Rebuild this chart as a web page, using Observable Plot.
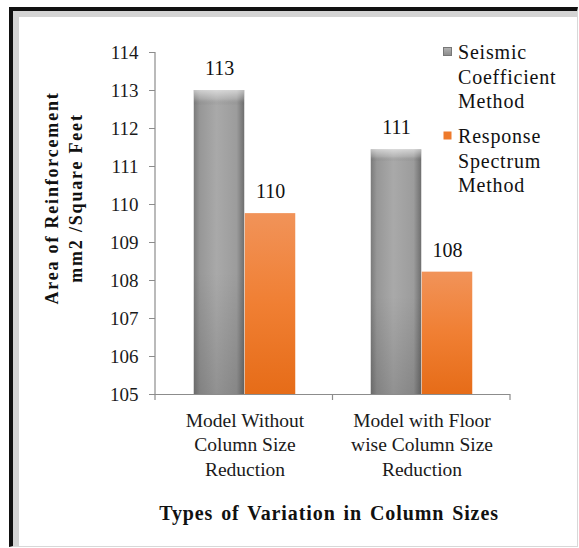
<!DOCTYPE html>
<html>
<head>
<meta charset="utf-8">
<script src="https://cdn.jsdelivr.net/npm/d3@7"></script>
<script src="https://cdn.jsdelivr.net/npm/@observablehq/plot@0.6"></script>
<style>
  html, body { margin: 0; padding: 0; background: #fff; }
  #wrap { position: relative; width: 579px; height: 548px; overflow: hidden; font-family: "Liberation Serif", "Times New Roman", serif; color: #111; }
  #outer { position: absolute; left: 9px; top: 7px; right: 1px; bottom: 1px; border-left: 4px solid #111; border-top: 4px solid #111; border-right: 1px solid #d8d8d8; border-bottom: 1px solid #d8d8d8; }
  #inner { position: absolute; left: 0; top: 0; right: 0; bottom: 0; border-left: 6px solid #d4d4d4; border-top: 6px solid #d4d4d4; }
  #chart { position: absolute; left: 0; top: 0; }
  #ytitle { position: absolute; left: 64px; top: 198px; width: 320px; transform: translate(-50%, -50%) rotate(-90deg); text-align: center; font-family: "Liberation Serif", "Times New Roman", serif; font-weight: bold; font-size: 18px; line-height: 24px; letter-spacing: 1.8px; }
  #xtitle { position: absolute; left: 329px; top: 513px; transform: translate(-50%, -50%); font-family: "Liberation Serif", "Times New Roman", serif; font-weight: bold; font-size: 20px; letter-spacing: 0.9px; word-spacing: 2px; white-space: nowrap; }
</style>
</head>
<body>
<div id="wrap">
  <div id="outer"><div id="inner"></div></div>
  <div id="chart"></div>
  <div id="ytitle"></div>
  <div id="xtitle"></div>
</div>
<script>
// ---- data ----
const categories = ["Without", "FloorWise"];
const categoryLabels = ["Model Without\nColumn Size\nReduction", "Model with Floor\nwise Column Size\nReduction"];
const seriesNames = ["Seismic Coefficient Method", "Response Spectrum Method"];
const legendLines = [["Seismic", "Coefficient", "Method"], ["Response", "Spectrum", "Method"]];
const seismicValues = [113.0, 111.44];
const responseValues = [109.76, 108.22];
const yTicks = [105, 106, 107, 108, 109, 110, 111, 112, 113, 114];
const yTitleLines = ["Area of Reinforcement", "mm2 /Square Feet"];
const xTitle = "Types of Variation in Column Sizes";

const seismic = categories.map((c, i) => ({category: c, value: seismicValues[i]}));
const response = categories.map((c, i) => ({category: c, value: responseValues[i]}));
const labelOf = new Map(categories.map((c, i) => [c, categoryLabels[i]]));
const fmt = d3.format(".0f");

const W = 579, H = 548;
const mL = 155, mR = 69, mT = 52, mB = 154;
const band = (W - mL - mR) / categories.length;
const barW = 51;
const outerPad = (band - 2 * barW) / 2;

// gradient defs
const defs = () => {
  const g = d3.create("svg:g");
  const d = g.append("defs");
  const gh = d.append("linearGradient").attr("id", "greyH").attr("x1", 0).attr("x2", 1).attr("y1", 0).attr("y2", 0);
  [[0, "#7a7a7a"], [0.12, "#979797"], [0.45, "#a9a9a9"], [0.85, "#9c9c9c"], [1, "#6e6e6e"]].forEach(([o, c]) => gh.append("stop").attr("offset", o).attr("stop-color", c));
  const gv = d.append("linearGradient").attr("id", "greyV").attr("x1", 0).attr("x2", 0).attr("y1", 0).attr("y2", 1);
  [[0, "rgba(255,255,255,0.55)"], [0.03, "rgba(255,255,255,0.15)"], [0.05, "rgba(0,0,0,0)"], [0.6, "rgba(0,0,0,0)"], [1, "rgba(0,0,0,0.14)"]].forEach(([o, c]) => gv.append("stop").attr("offset", o).attr("stop-color", c));
  const go = d.append("linearGradient").attr("id", "orangeV").attr("x1", 0).attr("x2", 0).attr("y1", 0).attr("y2", 1);
  [[0, "#f19359"], [0.5, "#f07f33"], [1, "#e66c18"]].forEach(([o, c]) => go.append("stop").attr("offset", o).attr("stop-color", c));
  const gs = d.append("linearGradient").attr("id", "greySw").attr("x1", 0).attr("x2", 0).attr("y1", 0).attr("y2", 1);
  [[0, "#b4b4b4"], [1, "#8a8a8a"]].forEach(([o, c]) => gs.append("stop").attr("offset", o).attr("stop-color", c));
  return g.node();
};

// y axis line and category boundary ticks (Excel style)
const axisLines = (index, scales, values, dims) => {
  const g = d3.create("svg:g").attr("stroke", "#8c8c8c").attr("stroke-width", 1.2);
  const {marginLeft, marginTop, marginBottom, width, height, marginRight} = dims;
  const y0 = height - marginBottom;
  g.append("line").attr("x1", marginLeft).attr("x2", marginLeft).attr("y1", marginTop).attr("y2", y0 + 6);
  const step = (width - marginLeft - marginRight) / categories.length;
  for (let i = 1; i <= categories.length; i++) {
    const x = marginLeft + i * step;
    g.append("line").attr("x1", x).attr("x2", x).attr("y1", y0).attr("y2", y0 + 6);
  }
  return g.node();
};

// legend (drawn in the SVG, top right)
const swatchFills = ["url(#greySw)", "#ee7a2c"];
const swatchStrokes = ["#777", "none"];
const legendMark = () => {
  const g = d3.create("svg:g").attr("font-family", "Liberation Serif, Times New Roman, serif").attr("font-size", 20).attr("fill", "#111").attr("text-anchor", "start");
  const tops = [53, 137];
  legendLines.forEach((lines, i) => {
    g.append("rect").attr("x", 443.5).attr("y", tops[i] - 5.5).attr("width", 8).attr("height", 8)
      .attr("fill", swatchFills[i]).attr("stroke", swatchStrokes[i]);
    const t = g.append("text").attr("x", 458).attr("y", tops[i]).attr("letter-spacing", 0.8).attr("text-anchor", "start");
    lines.forEach((line, j) => t.append("tspan").attr("x", 458).attr("y", tops[i] + j * 24.5).attr("dy", "0.32em").text(line));
  });
  return g.node();
};

const chart = Plot.plot({
  width: W, height: H,
  marginLeft: mL, marginRight: mR, marginTop: mT, marginBottom: mB,
  style: {fontFamily: "Liberation Serif, Times New Roman, serif", background: "transparent", overflow: "visible"},
  x: {type: "band", domain: categories, padding: 0, axis: null},
  y: {domain: [105, 114], axis: null},
  marks: [
    defs,
    Plot.barY(seismic, {x: "category", y1: 105, y2: "value", fill: "url(#greyH)", insetLeft: outerPad, insetRight: band - outerPad - barW}),
    Plot.barY(seismic, {x: "category", y1: 105, y2: "value", fill: "url(#greyV)", insetLeft: outerPad, insetRight: band - outerPad - barW}),
    Plot.barY(response, {x: "category", y1: 105, y2: "value", fill: "url(#orangeV)", insetLeft: outerPad + barW, insetRight: outerPad}),
    Plot.ruleY([105], {stroke: "#8c8c8c", strokeWidth: 1.2}),
    axisLines,
    Plot.axisY(yTicks, {anchor: "left", label: null, tickSize: 6, tickPadding: 11, fontSize: 19, stroke: "#8c8c8c", fill: "#1a1a1a", tickFormat: d => String(d)}),
    Plot.axisX({anchor: "bottom", label: null, tickSize: 0, tickPadding: 15, fontSize: 19.5, lineHeight: 1.25, fill: "#1a1a1a", tickFormat: d => labelOf.get(d)}),
    Plot.text(seismic, {x: "category", y: "value", text: d => fmt(d.value), dx: -(band / 2 - outerPad - barW / 2), dy: -22, fontSize: 20, fill: "#111", lineAnchor: "middle"}),
    Plot.text(response, {x: "category", y: "value", text: d => fmt(d.value), dx: (band / 2 - outerPad - barW / 2), dy: -22, fontSize: 20, fill: "#111", lineAnchor: "middle"}),
    legendMark
  ]
});
document.getElementById("chart").appendChild(chart);

document.getElementById("ytitle").innerHTML = yTitleLines.join("<br>");
document.getElementById("xtitle").textContent = xTitle;
</script>
</body>
</html>
